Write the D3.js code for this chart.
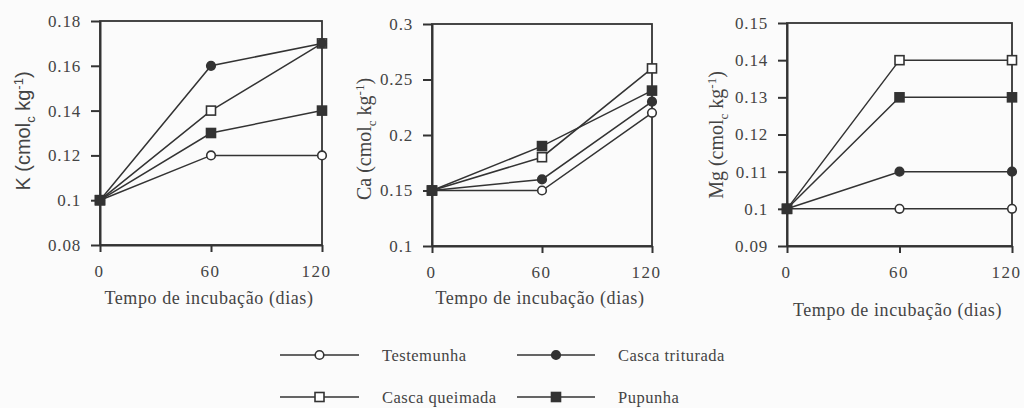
<!DOCTYPE html>
<html>
<head>
<meta charset="utf-8">
<script src="https://cdn.jsdelivr.net/npm/d3@7"></script>
<style>
  body { margin: 0; background: #fbfbfb; }
  svg { display: block; }
  .domain, .tick line { stroke: #333; stroke-width: 2; }
</style>
</head>
<body>
<script>
const days = [0, 60, 120];
const seriesNames = ["Testemunha", "Casca triturada", "Casca queimada", "Pupunha"];
const markerTypes = ["openCircle", "filledCircle", "openSquare", "filledSquare"];

// K (cmolc kg-1), one array per series
const kTestemunha = [0.10, 0.12, 0.12];
const kTriturada = [0.10, 0.16, 0.17];
const kQueimada = [0.10, 0.14, 0.17];
const kPupunha = [0.10, 0.13, 0.14];

// Ca
const caTestemunha = [0.15, 0.15, 0.22];
const caTriturada = [0.15, 0.16, 0.23];
const caQueimada = [0.15, 0.18, 0.26];
const caPupunha = [0.15, 0.19, 0.24];

// Mg
const mgTestemunha = [0.10, 0.10, 0.10];
const mgTriturada = [0.10, 0.11, 0.11];
const mgQueimada = [0.10, 0.14, 0.14];
const mgPupunha = [0.10, 0.13, 0.13];

const kTicks = [0.08, 0.10, 0.12, 0.14, 0.16, 0.18];
const caTicks = [0.10, 0.15, 0.20, 0.25, 0.30];
const mgTicks = [0.09, 0.10, 0.11, 0.12, 0.13, 0.14, 0.15];

const xTitle = "Tempo de incubação (dias)";

const W = 1024, H = 408;
const serif = "'Liberation Serif', 'Times New Roman', serif";
const sans = "'Liberation Sans', Arial, sans-serif";
const textColor = "#444";
const lineColor = "#333";

const svg = d3.select("body").append("svg")
  .attr("width", W).attr("height", H);

const panels = [
  {left: 100, right: 322, top: 21, bottom: 245, ticks: kTicks,
   values: [kTestemunha, kTriturada, kQueimada, kPupunha],
   label: "K", sans: true, labelX: 23, labelY: 131, titleY: 298},
  {left: 432, right: 652, top: 24, bottom: 246, ticks: caTicks,
   values: [caTestemunha, caTriturada, caQueimada, caPupunha],
   label: "Ca", sans: false, labelX: 364, labelY: 139, titleY: 298},
  {left: 787, right: 1012, top: 23, bottom: 246, ticks: mgTicks,
   values: [mgTestemunha, mgTriturada, mgQueimada, mgPupunha],
   label: "Mg", sans: false, labelX: 716, labelY: 135, titleY: 310}
];

const fmt = d => String(+d.toFixed(2));

function drawMarker(g, type, x, y) {
  const filled = type.startsWith("filled");
  if (type.endsWith("Circle")) {
    g.append("circle").attr("cx", x).attr("cy", y).attr("r", 4.3)
      .attr("fill", filled ? lineColor : "#fff")
      .attr("stroke", lineColor).attr("stroke-width", 1.6);
  } else {
    g.append("rect").attr("x", x - 4.5).attr("y", y - 4.5)
      .attr("width", 9).attr("height", 9)
      .attr("fill", filled ? lineColor : "#fff")
      .attr("stroke", lineColor).attr("stroke-width", 1.6);
  }
}

panels.forEach(p => {
  const x = d3.scaleLinear().domain([0, 120]).range([p.left, p.right]);
  const y = d3.scaleLinear().domain(d3.extent(p.ticks)).range([p.bottom, p.top]);
  const g = svg.append("g");

  // frame
  g.append("rect")
    .attr("x", p.left).attr("y", p.top)
    .attr("width", p.right - p.left).attr("height", p.bottom - p.top)
    .attr("fill", "none").attr("stroke", lineColor).attr("stroke-width", 1.8);

  const yAx = g.append("g")
    .attr("transform", `translate(${p.left},0)`)
    .call(d3.axisLeft(y).tickValues(p.ticks).tickFormat(fmt)
      .tickSize(9).tickSizeOuter(0).tickPadding(10));
  yAx.selectAll("text")
    .style("font-family", serif).style("font-size", "17px")
    .style("letter-spacing", "0.8px").attr("fill", textColor);

  const xAx = g.append("g")
    .attr("transform", `translate(0,${p.bottom})`)
    .call(d3.axisBottom(x).tickValues(days).tickFormat(d3.format("d"))
      .tickSize(7).tickSizeOuter(0).tickPadding(13));
  xAx.selectAll("text")
    .style("font-family", serif).style("font-size", "17px")
    .style("letter-spacing", "1.5px")
    .attr("dx", (d, i) => i === 2 ? -6 : -1).attr("fill", textColor);

  const line = d3.line().x((d, i) => x(days[i])).y(d => y(d));
  p.values.forEach(vals => {
    g.append("path").datum(vals)
      .attr("d", line).attr("fill", "none")
      .attr("stroke", lineColor).attr("stroke-width", 1.5);
  });
  // markers, queimada drawn before triturada so the overlap looks like the original
  [0, 2, 3, 1].forEach(s => {
    p.values[s].forEach((v, i) => drawMarker(g, markerTypes[s], x(days[i]), y(v)));
  });

  // x title
  g.append("text")
    .attr("x", (p.left + p.right) / 2 - 2).attr("y", p.titleY).attr("dy", "0.35em")
    .attr("text-anchor", "middle")
    .style("font-family", serif).style("font-size", "18px")
    .style("letter-spacing", "0.6px")
    .attr("fill", textColor).text(xTitle);

  // y title
  const yt = g.append("text")
    .attr("transform", `translate(${p.labelX},${p.labelY}) rotate(-90)`)
    .attr("text-anchor", "middle").attr("dy", "0.35em")
    .style("font-family", p.sans ? sans : serif)
    .style("font-size", "20px")
    .attr("fill", textColor);
  yt.append("tspan").text(p.label + (p.sans ? "  (cmol" : " (cmol"));
  yt.append("tspan").attr("dy", "5").style("font-size", "13px").text("c");
  yt.append("tspan").attr("dy", "-5").text(" kg");
  yt.append("tspan").attr("dy", "-7").style("font-size", "13px").text("-1");
  yt.append("tspan").attr("dy", "7").text(")");
});

// legend
const legendRows = [
  {y: 355, items: [0, 1]},
  {y: 397, items: [2, 3]}
];
const legendCols = [{x1: 280, x2: 359, tx: 382}, {x1: 517, x2: 595, tx: 618}];
const legend = svg.append("g").attr("class", "legend");
legendRows.forEach(r => {
  r.items.forEach((s, c) => {
    const col = legendCols[c];
    legend.append("line")
      .attr("x1", col.x1).attr("x2", col.x2).attr("y1", r.y).attr("y2", r.y)
      .attr("stroke", lineColor).attr("stroke-width", 1.5);
    drawMarker(legend, markerTypes[s], (col.x1 + col.x2) / 2, r.y);
    legend.append("text")
      .attr("x", col.tx).attr("y", r.y).attr("dy", "0.35em")
      .style("font-family", serif).style("font-size", "16.5px")
      .style("letter-spacing", "0.5px")
      .attr("fill", textColor)
      .text(s === 1 ? "Casca  triturada" : seriesNames[s]);
  });
});
</script>
</body>
</html>
